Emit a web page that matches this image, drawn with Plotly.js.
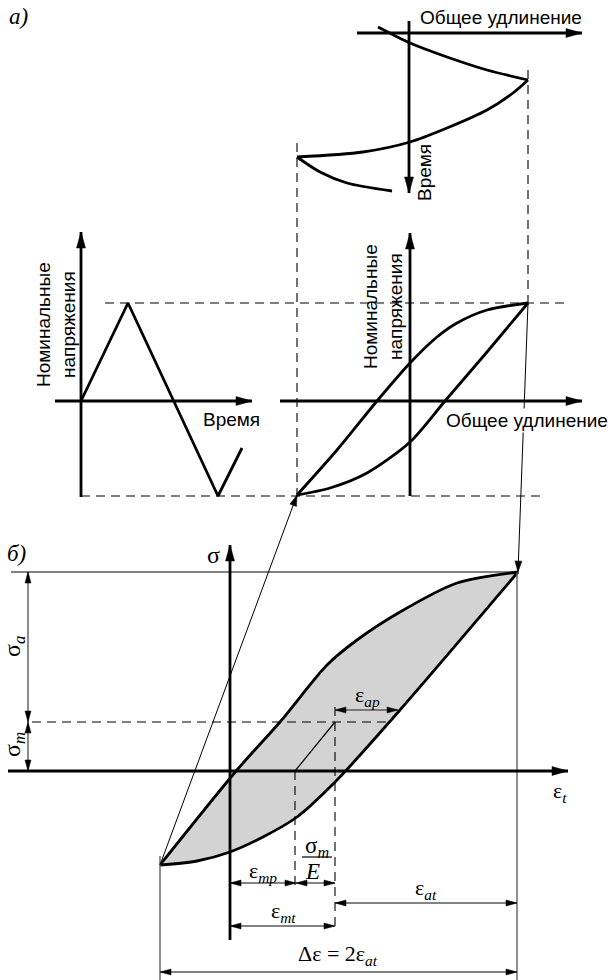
<!DOCTYPE html>
<html><head><meta charset="utf-8">
<script src="https://cdn.plot.ly/plotly-3.0.1.min.js"></script>
<style>html,body{margin:0;padding:0;background:#fff}#chart{width:610px;height:980px}</style>
</head><body><div id="chart"></div>
<script>
// ===== DATA (diagram units: 1 unit = 1 px of the original figure, y grows downward) =====
// panel а) top: total strain vs time record
const strainTimeA_x = [378, 410, 447, 487, 528];
const strainTimeA_y = [27, 43, 57, 70, 80];
const strainTimeB_x = [528, 513, 487, 447, 410, 363, 297];
const strainTimeB_y = [80, 93, 110, 128, 142, 152, 157];
const strainTimeC_x = [297, 320, 347, 392];
const strainTimeC_y = [157, 172, 183, 191];
// panel а) middle left: nominal stress vs time
const stressTime_x = [81, 128, 218, 242];
const stressTime_y = [401, 303, 496, 448];
// panel а) middle right: stress vs total strain loop
const loopUpper_x = [297, 337, 377, 410, 437, 457, 487, 528];
const loopUpper_y = [495, 450, 401, 363, 337, 323, 310, 303];
const loopLower_x = [297, 330, 367, 410, 445, 487, 528];
const loopLower_y = [495, 488, 473, 442, 401, 352, 303];
// panel б): hysteresis loop
const cycUpper_x = [160, 237, 280, 327, 357, 400, 457, 518];
const cycUpper_y = [865, 770, 722, 665, 640, 612, 583, 572];
const cycLower_x = [160, 197, 230, 263, 297, 337, 400, 518];
const cycLower_y = [865, 861, 852, 837, 817, 780, 710, 572];
// axes with arrows (from -> tip)
const axisFrom_x = [357, 409, 81, 55, 410, 280, 230, 8];
const axisFrom_y = [33, 21, 497, 401, 496, 401, 940, 771];
const axisTip_x  = [582, 409, 81, 252, 410, 582, 230, 568];
const axisTip_y  = [33, 193, 232, 401, 233, 401, 545, 771];
// thin projection arrows (from -> tip)
const projFrom_x = [528, 160];
const projFrom_y = [303, 865];
const projTip_x  = [518, 297];
const projTip_y  = [572, 495];
// dimension lines (both ends arrowed)
const dimNames = ["σa", "σm", "εap", "εmp", "σm/E", "εat", "εmt", "Δε"];
const dimX1 = [28, 28, 335, 230, 296, 335, 230, 160];
const dimY1 = [572, 722, 710, 883, 883, 903, 926, 972];
const dimX2 = [28, 28, 398, 296, 335, 517, 335, 517];
const dimY2 = [722, 771, 710, 883, 883, 903, 926, 972];
// dashed guide lines
const dashX1 = [297, 528, 105, 81, 32, 295, 335];
const dashY1 = [143, 70, 303, 496, 722, 771, 707];
const dashX2 = [297, 528, 567, 540, 390, 295, 335];
const dashY2 = [497, 303, 303, 496, 722, 887, 927];
// thin solid lines
const thinX1 = [11, 295, 302];
const thinY1 = [572, 771, 857];
const thinX2 = [518, 335, 332];
const thinY2 = [572, 722, 857];
// gray extension lines
const extX1 = [517, 160];
const extY1 = [572, 856];
const extX2 = [517, 160];
const extY2 = [980, 980];

// ===== helpers =====
function segs(x1, y1, x2, y2) {
  const xs = [], ys = [];
  for (let i = 0; i < x1.length; i++) { xs.push(x1[i], x2[i], null); ys.push(y1[i], y2[i], null); }
  return {x: xs, y: ys};
}
function heads(tipX, tipY, fromX, fromY, len, hw) {
  const xs = [], ys = [];
  for (let i = 0; i < tipX.length; i++) {
    const dx = tipX[i] - fromX[i], dy = tipY[i] - fromY[i];
    const L = Math.hypot(dx, dy), ux = dx / L, uy = dy / L;
    const bx = tipX[i] - ux * len, by = tipY[i] - uy * len;
    const px = -uy, py = ux;
    xs.push(tipX[i], bx + px * hw, bx - px * hw, tipX[i], null);
    ys.push(tipY[i], by + py * hw, by - py * hw, tipY[i], null);
  }
  return {x: xs, y: ys};
}
const BLACK = '#000';
const THICK = 2.8;
const traces = [];
function line(x, y, color, width, opts) {
  traces.push(Object.assign({type: 'scatter', mode: 'lines', x: x, y: y, hoverinfo: 'skip',
    line: {color: color, width: width}, connectgaps: false}, opts || {}));
}
function spl(x, y) { line(x, y, BLACK, THICK, {line: {color: BLACK, width: THICK, shape: 'spline', smoothing: 0.8}}); }

// shaded loop (panel б)
line(cycUpper_x, cycUpper_y, BLACK, THICK, {line: {color: BLACK, width: THICK, shape: 'spline', smoothing: 0.8}});
line(cycLower_x, cycLower_y, BLACK, THICK, {line: {color: BLACK, width: THICK, shape: 'spline', smoothing: 0.8},
  fill: 'tonexty', fillcolor: '#d3d3d3'});

// dashed lines
const d = segs(dashX1, dashY1, dashX2, dashY2);
line(d.x, d.y, BLACK, 1.1, {line: {color: BLACK, width: 1.1, dash: '9px,6px'}});
// gray extension lines and dimension lines
const e = segs(extX1, extY1, extX2, extY2);
line(e.x, e.y, '#6a6a6a', 1.5);
const dm = segs(dimX1, dimY1, dimX2, dimY2);
line(dm.x, dm.y, '#5a5a5a', 1.4);
// thin lines
const t = segs(thinX1, thinY1, thinX2, thinY2);
line(t.x, t.y, BLACK, 1.2);
const p = segs(projFrom_x, projFrom_y, projTip_x, projTip_y);
line(p.x, p.y, BLACK, 1);
// axes
const a = segs(axisFrom_x, axisFrom_y, axisTip_x, axisTip_y);
line(a.x, a.y, BLACK, THICK);
// curves
spl(strainTimeA_x, strainTimeA_y);
spl(strainTimeB_x, strainTimeB_y);
spl(strainTimeC_x, strainTimeC_y);
line(stressTime_x, stressTime_y, BLACK, THICK);
spl(loopUpper_x, loopUpper_y);
spl(loopLower_x, loopLower_y);

// arrowheads
function headTrace(h) {
  traces.push({type: 'scatter', mode: 'lines', x: h.x, y: h.y, fill: 'toself', fillcolor: BLACK,
    line: {color: BLACK, width: 0.5}, hoverinfo: 'skip'});
}
headTrace(heads(axisTip_x, axisTip_y, axisFrom_x, axisFrom_y, 16, 4.5));
headTrace(heads(projTip_x, projTip_y, projFrom_x, projFrom_y, 11, 3.5));
headTrace(heads(dimX1.concat(dimX2), dimY1.concat(dimY2), dimX2.concat(dimX1), dimY2.concat(dimY1), 11, 3));

// ===== labels =====
const SANS = 'Liberation Sans, Arial, sans-serif';
const SERIF = 'Liberation Serif, Times New Roman, serif';
function lab(text, x, y, fam, size, extra) {
  return Object.assign({text: text, x: x, y: y, xref: 'x', yref: 'y', showarrow: false,
    xanchor: 'center', yanchor: 'middle', font: {family: fam, size: size, color: BLACK}}, extra || {});
}
const annotations = [
  lab('<i>а)</i>', 18, 16, SERIF, 23),
  lab('Общее удлинение', 501, 17, SANS, 19),
  lab('Время', 424, 173, SANS, 19, {textangle: -90}),
  lab('Номинальные<br>напряжения', 56, 325, SANS, 19, {textangle: -90}),
  lab('Время', 231, 419, SANS, 19),
  lab('Номинальные<br>напряжения', 383, 307, SANS, 19, {textangle: -90}),
  lab('Общее удлинение', 527, 420, SANS, 19, {bgcolor: '#fff'}),
  lab('<i>б)</i>', 16, 553, SERIF, 23),
  lab('σ', 213, 555, SERIF, 24),
  lab('σ<sub><i>a</i></sub>', 14, 647, SERIF, 24, {textangle: -90}),
  lab('σ<sub><i>m</i></sub>', 14, 745, SERIF, 24, {textangle: -90}),
  lab('ε<sub><i>ap</i></sub>', 367, 696, SERIF, 22),
  lab('ε<sub><i>t</i></sub>', 560, 792, SERIF, 22),
  lab('ε<sub><i>mp</i></sub>', 263, 872, SERIF, 22),
  lab('σ<sub><i>m</i></sub>', 317, 847, SERIF, 23),
  lab('<i>E</i>', 312, 871, SERIF, 23),
  lab('ε<sub><i>at</i></sub>', 426, 889, SERIF, 22),
  lab('ε<sub><i>mt</i></sub>', 283, 912, SERIF, 22),
  lab('Δε = 2ε<sub><i>at</i></sub>', 338, 955, SERIF, 22)
];

const layout = {
  width: 610, height: 980, margin: {l: 0, r: 0, t: 0, b: 0, pad: 0},
  paper_bgcolor: '#fff', plot_bgcolor: '#fff', showlegend: false,
  xaxis: {range: [0, 610], visible: false, fixedrange: true},
  yaxis: {range: [980, 0], visible: false, fixedrange: true},
  annotations: annotations
};
Plotly.newPlot('chart', traces, layout, {staticPlot: true, displayModeBar: false});
</script></body></html>
